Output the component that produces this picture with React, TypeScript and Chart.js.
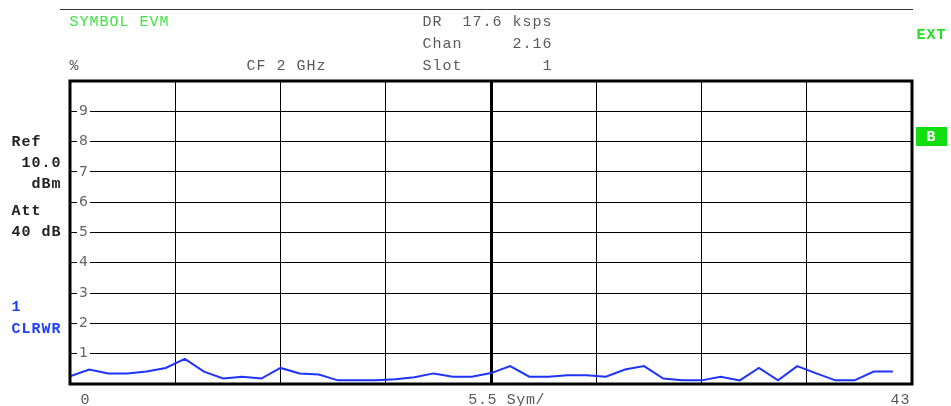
import React, { useEffect, useRef } from "react";
import { Chart, registerables } from "chart.js";

Chart.register(...registerables);

// Symbol index (x) and EVM in % (y)
const symbolIndex = [
  0, 1, 2, 3, 4, 5, 6, 7, 8, 9, 10, 11, 12, 13, 14, 15, 16, 17, 18, 19, 20, 21,
  22, 23, 24, 25, 26, 27, 28, 29, 30, 31, 32, 33, 34, 35, 36, 37, 38, 39, 40,
  41, 42, 43,
];
const evmPercent = [
  0.25, 0.48, 0.35, 0.35, 0.41, 0.53, 0.83, 0.41, 0.18, 0.24, 0.18, 0.53, 0.35,
  0.31, 0.12, 0.12, 0.12, 0.16, 0.22, 0.35, 0.24, 0.24, 0.36, 0.59, 0.24, 0.24,
  0.29, 0.29, 0.24, 0.48, 0.59, 0.18, 0.12, 0.12, 0.24, 0.12, 0.53, 0.12, 0.59,
  0.35, 0.12, 0.12, 0.41, 0.41,
];
const xMin = 0;
const xMax = 44;
const xStep = 5.5;
const yMin = 0;
const yMax = 10;
const yStep = 1;
const xStartLabel = "0";
const xCenterLabel = "5.5 Sym/";
const xEndLabel = "43";

const MONO = "'Liberation Mono', 'DejaVu Sans Mono', monospace";

function drawMono(
  ctx: CanvasRenderingContext2D,
  text: string,
  x: number,
  y: number,
  color: string,
  bold = false,
  size = 15,
  pitch = 10
) {
  ctx.save();
  ctx.font = `${bold ? "bold " : ""}${size}px ${MONO}`;
  ctx.fillStyle = color;
  ctx.textAlign = "center";
  ctx.textBaseline = "middle";
  for (let i = 0; i < text.length; i++) {
    const ch = text[i];
    if (ch !== " ") ctx.fillText(ch, x + i * pitch + pitch / 2, y);
  }
  ctx.restore();
}

const decorPlugin = {
  id: "decor",
  afterDraw(chart: any) {
    const ctx: CanvasRenderingContext2D = chart.ctx;
    const a = chart.chartArea;
    // frame
    ctx.save();
    ctx.strokeStyle = "#000";
    ctx.lineWidth = 3;
    ctx.strokeRect(a.left, a.top, a.right - a.left, a.bottom - a.top);
    // header top line
    ctx.lineWidth = 1;
    ctx.strokeStyle = "#333";
    ctx.beginPath();
    ctx.moveTo(60, 9.5);
    ctx.lineTo(913, 9.5);
    ctx.stroke();
    ctx.restore();

    const gray = "#5a5a5a";
    drawMono(ctx, "SYMBOL EVM", 69, 22, "#3ee43e");
    drawMono(ctx, "DR  17.6 ksps", 422, 22, gray);
    drawMono(ctx, "Chan     2.16", 422, 44, gray);
    drawMono(ctx, "%", 69, 66, gray);
    drawMono(ctx, "CF 2 GHz", 246, 66, gray);
    drawMono(ctx, "Slot        1", 422, 66, gray);

    const dark = "#222";
    const blue = "#2040ff";
    drawMono(ctx, "Ref", 11, 142, dark, true);
    drawMono(ctx, "10.0", 21, 163, dark, true);
    drawMono(ctx, "dBm", 31, 184, dark, true);
    drawMono(ctx, "Att", 11, 211, dark, true);
    drawMono(ctx, "40 dB", 11, 232, dark, true);
    drawMono(ctx, "1", 11, 307, blue, true);
    drawMono(ctx, "CLRWR", 11, 329, blue, true);

    drawMono(ctx, "EXT", 916, 35, "#22dd22", true);
    ctx.save();
    ctx.fillStyle = "#11dd11";
    ctx.fillRect(916, 127, 31, 19);
    ctx.restore();
    drawMono(ctx, "B", 926, 137, "#fff", true);

    drawMono(ctx, xStartLabel, 80, 400, gray);
    drawMono(ctx, xCenterLabel, 468, 400, gray, false, 15, 9.6);
    drawMono(ctx, xEndLabel, 890, 400, gray);
  },
};

export default function App() {
  const ref = useRef<HTMLCanvasElement | null>(null);

  useEffect(() => {
    if (!ref.current) return;
    const chart = new Chart(ref.current, {
      type: "line",
      data: {
        datasets: [
          {
            data: symbolIndex.map((s, i) => ({ x: s, y: evmPercent[i] })),
            borderColor: "#1f33ff",
            borderWidth: 2,
            pointRadius: 0,
            tension: 0,
            fill: false,
          },
        ],
      },
      options: {
        responsive: false,
        animation: false,
        devicePixelRatio: 1,
        layout: { padding: { left: 70, top: 81, right: 39, bottom: 22 } },
        plugins: { legend: { display: false }, tooltip: { enabled: false } },
        scales: {
          x: {
            type: "linear",
            min: xMin,
            max: xMax,
            ticks: { display: false, stepSize: xStep },
            grid: {
              color: "#000",
              lineWidth: (c: any) =>
                c.tick && Math.abs(c.tick.value - (xMin + xMax) / 2) < 1e-6 ? 3 : 1,
              drawTicks: false,
            },
            border: { display: false },
            afterFit: (s: any) => {
              s.height = 0;
            },
          },
          y: {
            type: "linear",
            min: yMin,
            max: yMax,
            ticks: {
              stepSize: yStep,
              mirror: true,
              padding: 9,
              color: "#666",
              font: { family: "'DejaVu Sans'", size: 14 },
              callback: (v: any) => (v === yMin || v === yMax ? null : String(v)),
              showLabelBackdrop: true,
              backdropColor: "#fff",
              backdropPadding: { left: 2, right: 2, top: 0, bottom: 0 },
            },
            grid: { color: "#000", lineWidth: 1, drawTicks: false },
            border: { display: false },
            afterFit: (s: any) => {
              s.width = 0;
            },
          },
        },
      } as any,
      plugins: [decorPlugin],
    });
    return () => chart.destroy();
  }, []);

  return (
    <div style={{ position: "fixed", left: 0, top: 0, width: 951, height: 406, background: "#fff" }}>
      <canvas ref={ref} width={951} height={406} style={{ display: "block" }} />
    </div>
  );
}
